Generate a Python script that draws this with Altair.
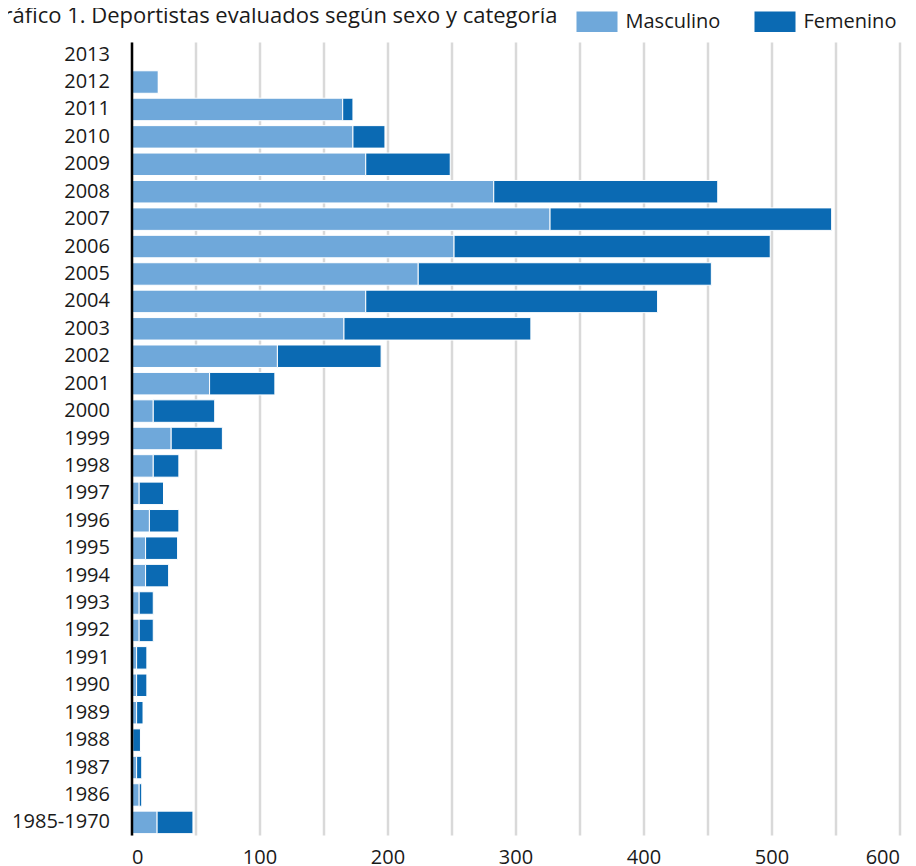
import altair as alt
import pandas as pd

categorias = ["2013", "2012", "2011", "2010", "2009", "2008", "2007", "2006", "2005",
              "2004", "2003", "2002", "2001", "2000", "1999", "1998", "1997", "1996",
              "1995", "1994", "1993", "1992", "1991", "1990", "1989", "1988", "1987",
              "1986", "1985-1970"]
masculino = [0, 21, 165, 173, 183, 283, 327, 252, 224, 183, 166, 114, 61, 17, 31, 17, 6,
             14, 11, 11, 6, 6, 4, 4, 4, 1, 4, 6, 20]
femenino = [0, 0, 8, 25, 66, 175, 220, 247, 229, 228, 146, 81, 51, 48, 40, 20, 19, 23,
            25, 18, 11, 11, 8, 8, 5, 6, 4, 2, 28]
series = ["Masculino", "Femenino"]
colores = ["#6fa8da", "#0b6ab3"]

rows = []
for c, m, f in zip(categorias, masculino, femenino):
    rows.append({"categoria": c, "sexo": "Masculino", "valor": m, "orden": 0})
    rows.append({"categoria": c, "sexo": "Femenino", "valor": f, "orden": 1})
df = pd.DataFrame(rows)

FONT = "Open Sans"

chart = alt.Chart(df).mark_bar(stroke="white", strokeWidth=1).encode(
    y=alt.Y("categoria:N", sort=categorias, title=None,
            scale=alt.Scale(paddingInner=0.18, paddingOuter=0.05),
            axis=alt.Axis(ticks=False, domainColor="black", domainWidth=2.5,
                          labelFontSize=20, labelFont=FONT, labelColor="#1a1a1a",
                          labelPadding=22, zindex=1, grid=False)),
    x=alt.X("valor:Q", stack="zero", title=None,
            scale=alt.Scale(domain=[0, 600], nice=False),
            axis=alt.Axis(values=list(range(0, 601, 50)),
                          labelExpr="datum.value % 100 == 0 ? datum.label : ''",
                          domain=False, ticks=False, grid=True, gridColor="#d9d9d9",
                          gridWidth=2.5, labelFontSize=20, labelFont=FONT,
                          labelColor="#1a1a1a", labelPadding=12, zindex=0)),
    color=alt.Color("sexo:N", sort=series,
                    scale=alt.Scale(domain=series, range=colores),
                    legend=alt.Legend(title=None, orient="none", direction="horizontal",
                                      legendX=445, legendY=-41,
                                      symbolType="M-1,-0.5H1V0.5H-1Z", symbolSize=1681,
                                      symbolStrokeWidth=0, labelFontSize=20,
                                      labelFont=FONT, labelColor="#1a1a1a",
                                      labelOffset=8, columnPadding=34)),
    order=alt.Order("orden:Q"),
).properties(
    width=768,
    height=793,
    autosize=alt.AutoSizeParams(type="none"),
    padding={"left": 123.5, "top": 34, "right": 8.5, "bottom": 31},
    title=alt.TitleParams("Gráfico 1. Deportistas evaluados según sexo y categoría",
                          anchor="start", frame="group", fontSize=22, font=FONT,
                          fontWeight="normal", color="#1a1a1a", dx=-144,
                          baseline="alphabetic", offset=-44),
).configure_view(stroke=None)

chart.save("out.html", embed_options={"renderer": "svg", "actions": False})
